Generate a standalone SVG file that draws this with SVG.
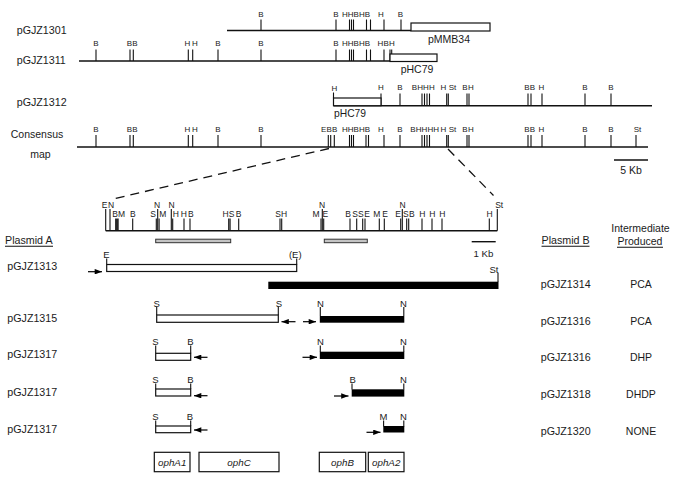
<svg xmlns="http://www.w3.org/2000/svg" width="682" height="480" viewBox="0 0 682 480">
<style>
.ln{stroke:#111;stroke-width:1.4;fill:none}
.tk{stroke:#111;stroke-width:1.1;fill:none}
.dash{stroke:#111;stroke-width:1.3;fill:none;stroke-dasharray:9 6}
.box{fill:#fff;stroke:#111;stroke-width:1.2}
.blk{fill:#000}
.gray{fill:#c4c4c4;stroke:#333;stroke-width:1}
.ar{stroke:#000;stroke-width:1.2;fill:none;marker-end:url(#ah)}
text{font-family:"Liberation Sans",Arial,Helvetica,sans-serif;fill:#1a1a1a}
.n{font-size:10.7px}
.c{font-size:10.5px;text-anchor:middle}
.r{font-size:8px;text-anchor:middle}
.d{font-size:8.5px;text-anchor:middle}
.e{font-size:9.5px;text-anchor:middle}
.g{font-size:9.8px;font-style:italic;text-anchor:middle}
</style>
<defs>
<marker id="ah" viewBox="0 0 8 6" refX="8" refY="3" markerWidth="8" markerHeight="5.5" markerUnits="userSpaceOnUse" orient="auto"><path d="M0,0L8,3L0,6z" fill="#000"/></marker>
</defs>

<g id="row-pGJZ1301">
<text class="n" x="16.7" y="33.5">pGJZ1301</text>
<line class="ln" x1="227" y1="30.5" x2="411" y2="30.5"/>
<path class="tk" d="M261 19.5V30.5M336 19.5V30.5M349.5 19.5V30.5M351.5 19.5V30.5M353.5 19.5V30.5M366.5 19.5V30.5M370.5 19.5V30.5M384 19.5V30.5M401 19.5V30.5"/>
<g class="r"><text x="261" y="17">B</text><text x="336" y="17">B</text><text x="344.8" y="17">H</text><text x="350.6" y="17">H</text><text x="356.2" y="17">B</text><text x="361.8" y="17">H</text><text x="367.4" y="17">B</text><text x="381" y="17">H</text><text x="400.5" y="17">B</text></g>
<rect class="box" x="411" y="23" width="79" height="8"/>
<text class="c" x="449" y="42.5">pMMB34</text>
</g>

<g id="row-pGJZ1311">
<text class="n" x="16.7" y="64.3">pGJZ1311</text>
<line class="ln" x1="79" y1="61" x2="390" y2="61"/>
<path class="tk" d="M96 49.5V61M130 49.5V61M133.3 49.5V61M188.3 49.5V61M192.7 49.5V61M218 49.5V61M261 49.5V61M336 49.5V61M349.5 49.5V61M351.5 49.5V61M353.5 49.5V61M366.5 49.5V61M370.5 49.5V61M384 49.5V61M390 49.5V61M391.7 49.5V61"/>
<g class="r"><text x="96" y="46">B</text><text x="129.5" y="46">B</text><text x="135" y="46">B</text><text x="187.5" y="46">H</text><text x="195" y="46">H</text><text x="218" y="46">B</text><text x="261" y="46">B</text><text x="336" y="46">B</text><text x="344.8" y="46">H</text><text x="350.6" y="46">H</text><text x="356.2" y="46">B</text><text x="361.8" y="46">H</text><text x="367.4" y="46">B</text><text x="380.5" y="46">H</text><text x="386.2" y="46">B</text><text x="391.8" y="46">H</text></g>
<rect class="box" x="390" y="54" width="47" height="7.5"/>
<text class="c" x="417" y="72.5">pHC79</text>
</g>

<g id="row-pGJZ1312">
<text class="n" x="16.7" y="106">pGJZ1312</text>
<line class="ln" x1="333.5" y1="105.7" x2="652" y2="105.7"/>
<path class="tk" d="M333.5 92.5V98M381 93.5V105.7M400 93.5V105.7M422 93.5V105.7M424.5 93.5V105.7M427 93.5V105.7M429.5 93.5V105.7M446.7 93.5V105.7M448.3 93.5V105.7M467 93.5V105.7M469 93.5V105.7M528 93.5V105.7M531 93.5V105.7M542 93.5V105.7M585 93.5V105.7M611 93.5V105.7"/>
<g class="r"><text x="334.5" y="90.5">H</text><text x="381" y="90">H</text><text x="400" y="90">B</text><text x="414.5" y="90">B</text><text x="420.2" y="90">H</text><text x="426" y="90">H</text><text x="431.8" y="90">H</text><text x="443.3" y="90">H</text><text x="452.5" y="90">St</text><text x="465" y="90">B</text><text x="471" y="90">H</text><text x="527" y="90">B</text><text x="532.5" y="90">B</text><text x="541.5" y="90">H</text><text x="585" y="90">B</text><text x="611" y="90">B</text></g>
<rect class="box" x="333.5" y="98" width="47.5" height="7.7"/>
<text class="n" x="334" y="117" style="font-size:10.3px">pHC79</text>
</g>

<g id="row-consensus">
<text class="c" x="37" y="137.7">Consensus</text>
<text class="c" x="40.5" y="158">map</text>
<line class="ln" x1="77" y1="147" x2="648" y2="147"/>
<path class="tk" d="M96 135V147M130 135V147M133.3 135V147M188.3 135V147M192.7 135V147M218 135V147M261 135V147M328.3 135V147M330.7 135V147M334.3 135V147M349.5 135V147M351.5 135V147M353.5 135V147M366 135V147M368.5 135V147M384 135V147M400 135V147M422 135V147M424.5 135V147M427 135V147M429.5 135V147M446.7 135V147M448.3 135V147M467 135V147M469 135V147M528 135V147M531 135V147M542 135V147M585 135V147M611 135V147M636 135V147"/>
<g class="r"><text x="96" y="132">B</text><text x="129.5" y="132">B</text><text x="135" y="132">B</text><text x="187.5" y="132">H</text><text x="195" y="132">H</text><text x="218" y="132">B</text><text x="261" y="132">B</text><text x="323.6" y="132">E</text><text x="329.2" y="132">B</text><text x="334.7" y="132">B</text><text x="344.8" y="132">H</text><text x="350.6" y="132">H</text><text x="356.2" y="132">B</text><text x="361.8" y="132">H</text><text x="367.4" y="132">B</text><text x="381" y="132">H</text><text x="400" y="132">B</text><text x="413" y="132">B</text><text x="418.7" y="132">H</text><text x="424.5" y="132">H</text><text x="430.3" y="132">H</text><text x="436.1" y="132">H</text><text x="443.5" y="132">H</text><text x="452.5" y="132">St</text><text x="465" y="132">B</text><text x="471" y="132">H</text><text x="527" y="132">B</text><text x="532.5" y="132">B</text><text x="541.5" y="132">H</text><text x="585" y="132">B</text><text x="611" y="132">B</text><text x="637.5" y="132">St</text></g>
<line class="ln" x1="614" y1="160" x2="648" y2="160"/>
<text class="c" x="631" y="173.5">5 Kb</text>
</g>

<g id="connectors">
<line class="dash" x1="329" y1="148.5" x2="115" y2="198.5"/>
<line class="dash" x1="448" y1="149" x2="493.5" y2="195.5"/>
<line class="ar" x1="88" y1="271.7" x2="102" y2="271.7"/>
<line class="ar" x1="295.5" y1="321.7" x2="281.5" y2="321.7"/>
<line class="ar" x1="303" y1="321.7" x2="316" y2="321.7"/>
<line class="ar" x1="207.5" y1="357.3" x2="194" y2="357.3"/>
<line class="ar" x1="302.5" y1="357.3" x2="317" y2="357.3"/>
<line class="ar" x1="207.5" y1="395.7" x2="194" y2="395.7"/>
<line class="ar" x1="334" y1="396" x2="348.5" y2="396"/>
<line class="ar" x1="207.5" y1="430" x2="194" y2="430"/>
<line class="ar" x1="366.5" y1="432.3" x2="380.5" y2="432.3"/>
</g>

<g id="detail-map">
<line class="ln" x1="105.7" y1="230.7" x2="497.3" y2="230.7"/>
<path class="tk" d="M105.7 209V230.7M110 209V230.7M157.7 209V230.7M171.3 209V230.7M322.3 209V230.7M402.3 209V230.7M497.3 209V230.7"/>
<path class="tk" d="M115.7 218.5V230.7M116.9 218.5V230.7M118.1 218.5V230.7M132.7 218.5V230.7M156.3 218.5V230.7M159.1 218.5V230.7M172.7 218.5V230.7M184 218.5V230.7M190 218.5V230.7M228.7 218.5V230.7M230.1 218.5V230.7M238.7 218.5V230.7M280 218.5V230.7M281.7 218.5V230.7M321 218.5V230.7M323.7 218.5V230.7M350 218.5V230.7M356.7 218.5V230.7M362.7 218.5V230.7M365 218.5V230.7M379.3 218.5V230.7M384.3 218.5V230.7M400.7 218.5V230.7M406.7 218.5V230.7M408.7 218.5V230.7M422 218.5V230.7M432 218.5V230.7M442 218.5V230.7M489.3 218.5V230.7"/>
<g class="d"><text x="104.6" y="207.7">E</text><text x="111" y="207.7">N</text><text x="157" y="207.7">N</text><text x="171.5" y="207.7">N</text><text x="322" y="207.7">N</text><text x="402.5" y="207.7">N</text><text x="499.2" y="207.7">St</text></g>
<g class="d"><text x="115" y="216.7">B</text><text x="121.5" y="216.7">M</text><text x="132.8" y="216.7">B</text><text x="153" y="216.7">S</text><text x="162.7" y="216.7">M</text><text x="175.8" y="216.7">H</text><text x="183.8" y="216.7">H</text><text x="190.8" y="216.7">B</text><text x="225.5" y="216.7">H</text><text x="231.5" y="216.7">S</text><text x="238.5" y="216.7">B</text><text x="278" y="216.7">S</text><text x="284" y="216.7">H</text><text x="316" y="216.7">M</text><text x="325.3" y="216.7">E</text><text x="348" y="216.7">B</text><text x="355" y="216.7">S</text><text x="360.8" y="216.7">S</text><text x="367.2" y="216.7">E</text><text x="376.7" y="216.7">M</text><text x="385" y="216.7">E</text><text x="398" y="216.7">E</text><text x="405.8" y="216.7">S</text><text x="411.8" y="216.7">B</text><text x="422.2" y="216.7">H</text><text x="432.2" y="216.7">H</text><text x="442.2" y="216.7">H</text><text x="489.5" y="216.7">H</text></g>
<rect class="gray" x="155.7" y="239.2" width="75" height="3.5"/>
<rect class="gray" x="324.3" y="239.2" width="43" height="3.5"/>
<line class="ln" x1="471.7" y1="241.7" x2="495.7" y2="241.7"/>
<text class="c" x="483.5" y="256.5" style="font-size:9.7px">1 Kb</text>
</g>

<g id="headers">
<text class="n" x="5" y="244">Plasmid A</text>
<line class="tk" x1="5" y1="246.3" x2="53" y2="246.3"/>
<text class="n" x="541.5" y="244">Plasmid B</text>
<line class="tk" x1="541.5" y1="246.3" x2="589.5" y2="246.3"/>
<text class="c" x="640.5" y="231.7">Intermediate</text>
<text class="c" x="640" y="245">Produced</text>
<line class="tk" x1="617" y1="247.3" x2="663" y2="247.3"/>
</g>

<g id="pGJZ1313">
<text class="n" x="7.3" y="269.5">pGJZ1313</text>
<path class="tk" d="M106.7 258.5V264.5M296.7 258.5V264.5"/>
<rect class="box" x="106.7" y="264.5" width="190" height="7"/>
<text class="e" x="106.3" y="258.3">E</text>
<text class="e" x="295.3" y="258.3">(E)</text>
</g>

<g id="pGJZ1314">
<path class="tk" d="M498 273V282"/>
<rect class="blk" x="268.3" y="281.7" width="230.2" height="7.3"/>
<text class="e" x="494" y="273">St</text>
<text class="n" x="540.7" y="287.5">pGJZ1314</text>
<text class="c" x="641" y="287.5">PCA</text>
</g>

<g id="pGJZ1315">
<text class="n" x="7.3" y="321.5">pGJZ1315</text>
<path class="tk" d="M156.7 306.8V315M278.3 306.8V315"/>
<rect class="box" x="156.7" y="315" width="121.6" height="7.3"/>
<text class="e" x="156.7" y="306.5">S</text>
<text class="e" x="279" y="306.5">S</text>
</g>

<g id="pGJZ1316-a">
<path class="tk" d="M320.3 307V316M403.8 307V316"/>
<rect class="blk" x="319.8" y="316" width="84.5" height="6.7"/>
<text class="e" x="320.5" y="306.5">N</text>
<text class="e" x="403.5" y="306.5">N</text>
<text class="n" x="540.7" y="325">pGJZ1316</text>
<text class="c" x="641" y="325">PCA</text>
</g>

<g id="pGJZ1317-a">
<text class="n" x="7.3" y="357.7">pGJZ1317</text>
<path class="tk" d="M155.7 345.5V353.3M190.7 345.5V353.3"/>
<rect class="box" x="155.7" y="353.3" width="35" height="7"/>
<text class="e" x="155.5" y="345">S</text>
<text class="e" x="190.5" y="345">B</text>
</g>

<g id="pGJZ1316-b">
<path class="tk" d="M320.3 345.5V352M403.8 345.5V352"/>
<rect class="blk" x="319.8" y="351.7" width="84.5" height="7.3"/>
<text class="e" x="320.5" y="345">N</text>
<text class="e" x="403.5" y="345">N</text>
<text class="n" x="540.7" y="361">pGJZ1316</text>
<text class="c" x="641" y="361">DHP</text>
</g>

<g id="pGJZ1317-b">
<text class="n" x="7.3" y="396">pGJZ1317</text>
<path class="tk" d="M155.7 383.5V389M190.7 383.5V389"/>
<rect class="box" x="155.7" y="389" width="35" height="7"/>
<text class="e" x="155.5" y="383">S</text>
<text class="e" x="190.5" y="383">B</text>
</g>

<g id="pGJZ1318">
<path class="tk" d="M352 383.5V389.5M403.8 383.5V389.5"/>
<rect class="blk" x="351.7" y="389.3" width="52.6" height="7.3"/>
<text class="e" x="352.7" y="383">B</text>
<text class="e" x="403.5" y="383">N</text>
<text class="n" x="540.7" y="398">pGJZ1318</text>
<text class="c" x="641" y="398">DHDP</text>
</g>

<g id="pGJZ1317-c">
<text class="n" x="7.3" y="432.7">pGJZ1317</text>
<path class="tk" d="M155.7 420.5V426M190.7 420.5V426"/>
<rect class="box" x="155.7" y="426" width="35" height="6.7"/>
<text class="e" x="155.5" y="419.7">S</text>
<text class="e" x="189.8" y="419.7">B</text>
</g>

<g id="pGJZ1320">
<path class="tk" d="M383.6 420.5V426.5M403.8 420.5V426.5"/>
<rect class="blk" x="383.3" y="426" width="21" height="6.5"/>
<text class="e" x="383.5" y="419.7">M</text>
<text class="e" x="403.5" y="419.7">N</text>
<text class="n" x="540.7" y="435">pGJZ1320</text>
<text class="c" x="641" y="435">NONE</text>
</g>

<g id="genes">
<rect class="box" x="154.3" y="452.3" width="35.7" height="19.4"/>
<text class="g" x="172.2" y="465.5">ophA1</text>
<rect class="box" x="199" y="452.3" width="80" height="19.4"/>
<text class="g" x="239" y="465.5">ophC</text>
<rect class="box" x="319.3" y="452.3" width="46.4" height="19.4"/>
<text class="g" x="342.5" y="465.5">ophB</text>
<rect class="box" x="368.3" y="452.3" width="35.7" height="19.4"/>
<text class="g" x="386.2" y="465.5">ophA2</text>
</g>
</svg>
